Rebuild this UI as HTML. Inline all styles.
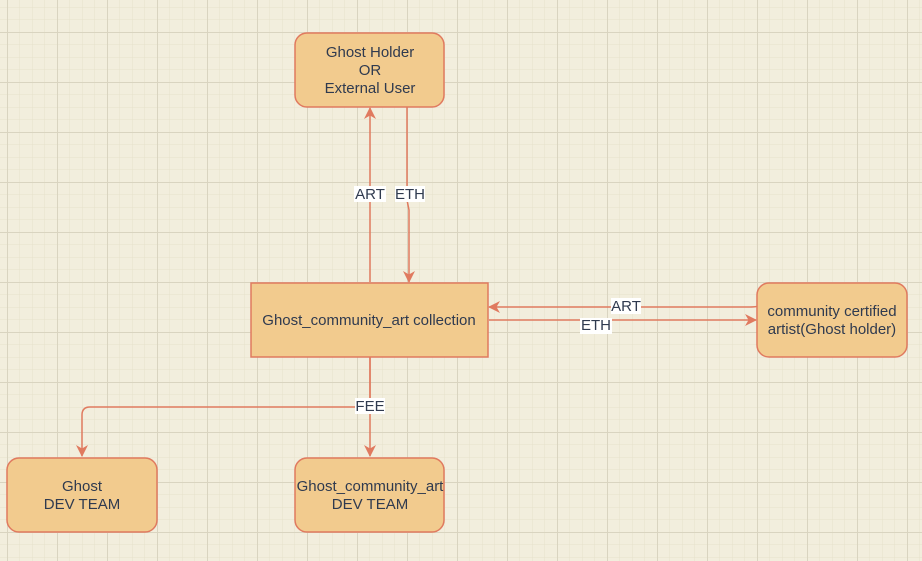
<!DOCTYPE html>
<html><head><meta charset="utf-8"><style>
html,body{margin:0;padding:0;background:#f2eedd;}
svg{display:block;}
text{font-family:"Liberation Sans",Arial,sans-serif;font-size:15px;fill:#2f3a4f;}
</style></head><body>
<svg width="922" height="561" viewBox="0 0 922 561" xmlns="http://www.w3.org/2000/svg">
<defs>
<pattern id="minor" x="7" y="7" width="12.5" height="12.5" patternUnits="userSpaceOnUse">
<path d="M0 0H12.5M0 0V12.5" stroke="#e6e1cc" stroke-width="1" fill="none"/>
</pattern>
<pattern id="major" x="7" y="32" width="50" height="50" patternUnits="userSpaceOnUse">
<path d="M0 0.5H50M0.5 0V50" stroke="#d9d4c0" stroke-width="1" fill="none"/>
</pattern>
<marker id="ar" markerWidth="12" markerHeight="12" refX="11" refY="6" orient="auto" markerUnits="userSpaceOnUse">
<path d="M0 0 L12 6 L0 12 L3.5 6 Z" fill="#e07a5f"/>
</marker>
</defs>
<rect width="922" height="561" fill="#f2eedd"/>
<rect width="922" height="561" fill="url(#minor)"/>
<rect width="922" height="561" fill="url(#major)"/>

<g stroke="#e07a5f" stroke-width="1.5" fill="none">
<path d="M370 282 V108" marker-end="url(#ar)"/>
<path d="M407 107 V200 L409 210 V282" marker-end="url(#ar)"/>
<path d="M757 306 Q757 307 750 307 H489" marker-end="url(#ar)"/>
<path d="M489 320 H756" marker-end="url(#ar)"/>
<path d="M370 357 V456" marker-end="url(#ar)"/>
<path d="M370 357 V400 Q370 407 363 407 H90 Q82 407 82 415 V456" marker-end="url(#ar)"/>
</g>

<g fill="#f2cb8e" stroke="#e07a5f" stroke-width="1.5">
<rect x="295" y="33" width="149" height="74" rx="12"/>
<rect x="251" y="283" width="237" height="74"/>
<rect x="757" y="283" width="150" height="74" rx="12"/>
<rect x="7" y="458" width="150" height="74" rx="12"/>
<rect x="295" y="458" width="149" height="74" rx="12"/>
</g>

<g fill="#fff">
<rect x="354" y="186" width="32" height="16"/>
<rect x="395" y="186" width="30" height="16"/>
<rect x="611" y="298" width="30" height="16"/>
<rect x="580" y="318" width="32" height="16"/>
<rect x="355" y="398" width="30" height="16"/>
</g>

<g text-anchor="middle">
<text x="370" y="57">Ghost Holder</text>
<text x="370" y="75">OR</text>
<text x="370" y="93">External User</text>
<text x="369" y="325">Ghost_community_art collection</text>
<text x="832" y="316">community certified</text>
<text x="832" y="334">artist(Ghost holder)</text>
<text x="82" y="491">Ghost</text>
<text x="82" y="509">DEV TEAM</text>
<text x="370" y="491">Ghost_community_art</text>
<text x="370" y="509">DEV TEAM</text>
<text x="370" y="199">ART</text>
<text x="410" y="199">ETH</text>
<text x="626" y="311">ART</text>
<text x="596" y="330">ETH</text>
<text x="370" y="411">FEE</text>
</g>
</svg>
</body></html>
